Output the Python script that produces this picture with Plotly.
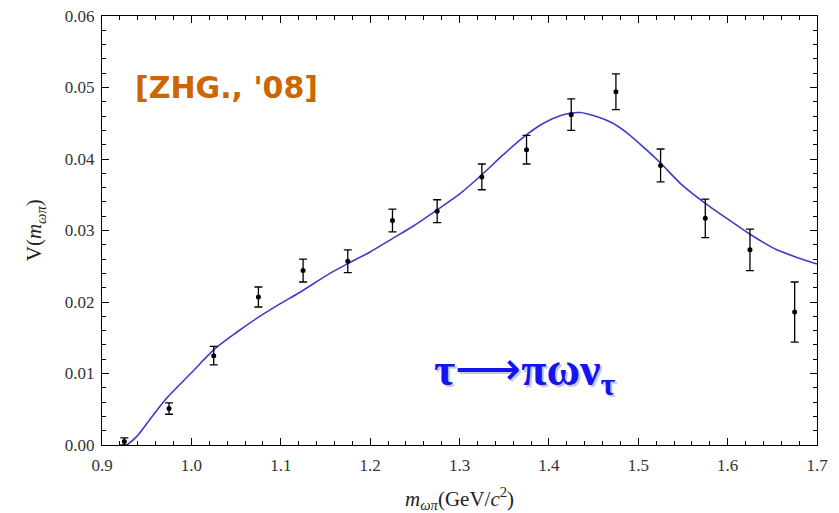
import plotly.graph_objects as go

# Measured spectral function V(m_ωπ): bin centres, values, uncertainties
m_bins = [0.925, 0.975, 1.025, 1.075, 1.125, 1.175, 1.225, 1.275,
          1.325, 1.375, 1.425, 1.475, 1.525, 1.575, 1.625, 1.675]
v_meas = [0.0005, 0.0051, 0.0125, 0.0207, 0.0244, 0.0257, 0.0314, 0.0327,
          0.0375, 0.0413, 0.0462, 0.0494, 0.0391, 0.0317, 0.0273, 0.0186]
v_err = [0.0005, 0.0008, 0.0013, 0.0014, 0.0016, 0.0016, 0.0016, 0.0016,
         0.0018, 0.0020, 0.0022, 0.0025, 0.0023, 0.0027, 0.0029, 0.0042]

# Model curve samples
m_curve = [0.928, 0.939, 0.955, 0.972, 1.000, 1.025, 1.050, 1.073, 1.100,
           1.122, 1.155, 1.174, 1.200, 1.224, 1.248, 1.275, 1.301, 1.325,
           1.349, 1.373, 1.394, 1.416, 1.435, 1.454, 1.470, 1.487, 1.509,
           1.526, 1.547, 1.575, 1.599, 1.626, 1.655, 1.681, 1.700]
v_curve = [0.0000, 0.0012, 0.0038, 0.0065, 0.0101, 0.0133, 0.0157, 0.0177,
           0.0198, 0.0214, 0.0240, 0.0253, 0.0270, 0.0288, 0.0306, 0.0329,
           0.0352, 0.0378, 0.0406, 0.0432, 0.0450, 0.0462, 0.0465, 0.0459,
           0.0451, 0.0437, 0.0413, 0.0393, 0.0366, 0.0338, 0.0317, 0.0294,
           0.0273, 0.0261, 0.0253]

x_ticks = [0.9, 1.0, 1.1, 1.2, 1.3, 1.4, 1.5, 1.6, 1.7]
y_ticks = [0.00, 0.01, 0.02, 0.03, 0.04, 0.05, 0.06]

SERIF = "Liberation Serif, Times New Roman, serif"

fig = go.Figure()

fig.add_trace(go.Scatter(
    x=m_curve, y=v_curve, mode="lines",
    line=dict(color="#3c3cc8", width=1.6, shape="spline", smoothing=0.8),
    hoverinfo="skip", showlegend=False,
))

fig.add_trace(go.Scatter(
    x=m_bins, y=v_meas, mode="markers",
    marker=dict(color="black", size=5),
    error_y=dict(type="data", array=v_err, visible=True,
                 color="black", thickness=1.3, width=4),
    showlegend=False,
))

axis_common = dict(
    showline=True, linecolor="black", linewidth=1.2, mirror="allticks",
    ticks="inside", ticklen=7, tickwidth=1.2, tickcolor="black",
    showgrid=False, zeroline=False,
    tickfont=dict(family=SERIF, size=17, color="#333333"),
)

fig.update_xaxes(
    range=[0.9, 1.7], tickmode="array", tickvals=x_ticks,
    ticktext=[f"{t:.1f}" for t in x_ticks], ticklabelstandoff=4,
    minor=dict(ticks="inside", ticklen=4, tickwidth=1, tickcolor="black",
               tickmode="linear", dtick=0.02, tick0=0.9, showgrid=False),
    **axis_common,
)
fig.update_yaxes(
    range=[0.0, 0.06], tickmode="array", tickvals=y_ticks,
    ticktext=[f"{t:.2f}" for t in y_ticks], ticklabelstandoff=3,
    minor=dict(ticks="inside", ticklen=4, tickwidth=1, tickcolor="black",
               tickmode="linear", dtick=0.002, tick0=0.0, showgrid=False),
    **axis_common,
)

annotations = [
    # axis titles
    dict(text="V(<i>m</i><sub><i>ωπ</i></sub>)", xref="paper", yref="paper",
         x=-0.094, y=0.5, textangle=-90, showarrow=False,
         xanchor="center", yanchor="middle",
         font=dict(family=SERIF, size=21, color="#222222")),
    dict(text="<i>m</i><sub><i>ωπ</i></sub>(GeV/<i>c</i><sup>2</sup>)",
         xref="paper", yref="paper", x=0.5, y=-0.124, showarrow=False,
         xanchor="center", yanchor="middle",
         font=dict(family=SERIF, size=21, color="#222222")),
    # reference tag
    dict(text="<b>[ZHG., '08]</b>", xref="paper", yref="paper",
         x=0.043, y=0.833, xanchor="left", yanchor="middle", showarrow=False,
         font=dict(family="DejaVu Sans", size=30, color="#cc6600")),
    # decay channel label: soft shadow, then the blue text
    dict(text="<b>τ</b>⟶<b>πων<sub>τ</sub></b>", xref="paper", yref="paper",
         x=0.4645, y=0.163, xanchor="left", yanchor="middle", showarrow=False,
         font=dict(family=SERIF, size=46, color="#c8c8d8")),
    dict(text="<b>τ</b>⟶<b>πων<sub>τ</sub></b>", xref="paper", yref="paper",
         x=0.462, y=0.168, xanchor="left", yanchor="middle", showarrow=False,
         font=dict(family=SERIF, size=46, color="#1414f0")),
]

fig.update_layout(
    template="none",
    width=839, height=513,
    margin=dict(l=102, r=22, t=16, b=68),
    paper_bgcolor="white", plot_bgcolor="white",
    annotations=annotations,
    showlegend=False,
)

fig.write_html("out.html")
